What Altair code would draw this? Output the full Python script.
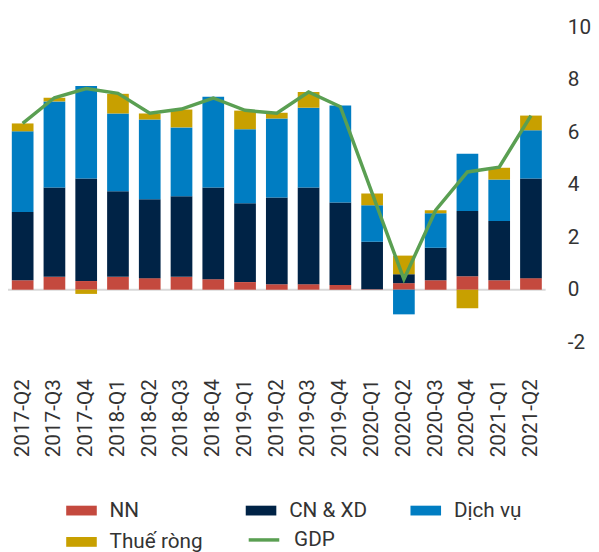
import altair as alt
import pandas as pd

quarters = ["2017-Q2", "2017-Q3", "2017-Q4", "2018-Q1", "2018-Q2", "2018-Q3", "2018-Q4",
            "2019-Q1", "2019-Q2", "2019-Q3", "2019-Q4", "2020-Q1", "2020-Q2", "2020-Q3",
            "2020-Q4", "2021-Q1", "2021-Q2"]
nn = [0.36, 0.49, 0.33, 0.49, 0.44, 0.49, 0.40, 0.29, 0.21, 0.21, 0.18, 0.02, 0.25, 0.36, 0.51, 0.36, 0.44]
cn_xd = [2.60, 3.41, 3.91, 3.26, 3.01, 3.07, 3.50, 3.01, 3.31, 3.69, 3.15, 1.81, 0.34, 1.24, 2.49, 2.26, 3.80]
dich_vu = [3.08, 3.28, 3.53, 2.97, 3.04, 2.63, 3.46, 2.82, 3.01, 3.04, 3.69, 1.39, -0.94, 1.32, 2.18, 1.58, 1.84]
thue_rong = [0.30, 0.14, -0.16, 0.75, 0.23, 0.68, 0.0, 0.71, 0.22, 0.60, 0.0, 0.45, 0.71, 0.11, -0.71, 0.45, 0.56]
gdp = [6.34, 7.32, 7.67, 7.49, 6.73, 6.89, 7.31, 6.84, 6.73, 7.54, 6.98, 3.68, 0.40, 3.03, 4.49, 4.67, 6.64]

series_names = ["NN", "CN & XD", "Dịch vụ", "Thuế ròng"]
series_colors = ["#C4493E", "#002346", "#007DC2", "#C8A000"]
gdp_color = "#5A9F52"

rows = []
for idx, (name, vals) in enumerate(zip(series_names, [nn, cn_xd, dich_vu, thue_rong])):
    for q, v in zip(quarters, vals):
        rows.append({"quarter": q, "series": name, "value": v, "idx": idx})
bars_df = pd.DataFrame(rows)
gdp_df = pd.DataFrame({"quarter": quarters, "gdp": gdp, "s": ["GDP"] * len(quarters)})
zero_df = pd.DataFrame({"y": [0]})

FONT = "Roboto"
TXT = "#333333"

x_enc = alt.X(
    "quarter:N", sort=quarters,
    scale=alt.Scale(paddingInner=0.317, paddingOuter=0.12),
    axis=alt.Axis(title=None, labelAngle=-90, ticks=False, tickSize=0, domain=False,
                  labelPadding=37, labelFontSize=21, labelColor=TXT, labelFont=FONT),
)
y_scale = alt.Scale(domain=[-2, 10], nice=False)
y_axis = alt.Axis(title=None, orient="right", values=[-2, 0, 2, 4, 6, 8, 10], ticks=False, tickSize=0,
                  domain=False, grid=False, labelPadding=22, labelAlign="left",
                  labelFontSize=21, labelColor=TXT, labelFont=FONT,
                  labelExpr="datum.value + ''")

zero = alt.Chart(zero_df).mark_rule(color="#D9D9D9", strokeWidth=2).encode(
    y=alt.Y("y:Q", scale=y_scale, axis=y_axis)
)

bars = alt.Chart(bars_df).mark_bar().encode(
    x=x_enc,
    y=alt.Y("value:Q", stack="zero", scale=y_scale, axis=y_axis),
    color=alt.Color(
        "series:N",
        sort=series_names,
        scale=alt.Scale(domain=series_names, range=series_colors),
        legend=alt.Legend(
            title=None, orient="none", direction="horizontal", legendX=59, legendY=474,
            columns=3, columnPadding=43, rowPadding=6, padding=0, values=series_names,
            symbolType="M-1,-0.32L1,-0.32L1,0.32L-1,0.32Z", symbolSize=961,
            symbolStrokeWidth=0, labelOffset=13, labelFontSize=21, labelColor=TXT,
            labelFont=FONT, labelLimit=300,
        ),
    ),
    order=alt.Order("idx:Q", sort="ascending"),
)

line = alt.Chart(gdp_df).mark_line(strokeWidth=3.5).encode(
    x=x_enc,
    y=alt.Y("gdp:Q", scale=y_scale, axis=y_axis),
    stroke=alt.Stroke(
        "s:N",
        scale=alt.Scale(domain=["GDP"], range=[gdp_color]),
        legend=alt.Legend(
            title=None, orient="none", legendX=242, legendY=502, padding=0,
            symbolType="stroke", symbolSize=961, symbolStrokeWidth=3.5,
            labelOffset=13, labelFontSize=21, labelColor=TXT, labelFont=FONT,
        ),
    ),
)

chart = alt.layer(zero, bars, line).resolve_scale(color="independent").properties(
    width=545, height=319,
    autosize=alt.AutoSizeParams(type="none"),
    padding={"left": 0, "top": 16, "right": 46, "bottom": 209},
).configure_view(stroke=None)

chart.save("out.html", embed_options={"renderer": "svg", "actions": False})
